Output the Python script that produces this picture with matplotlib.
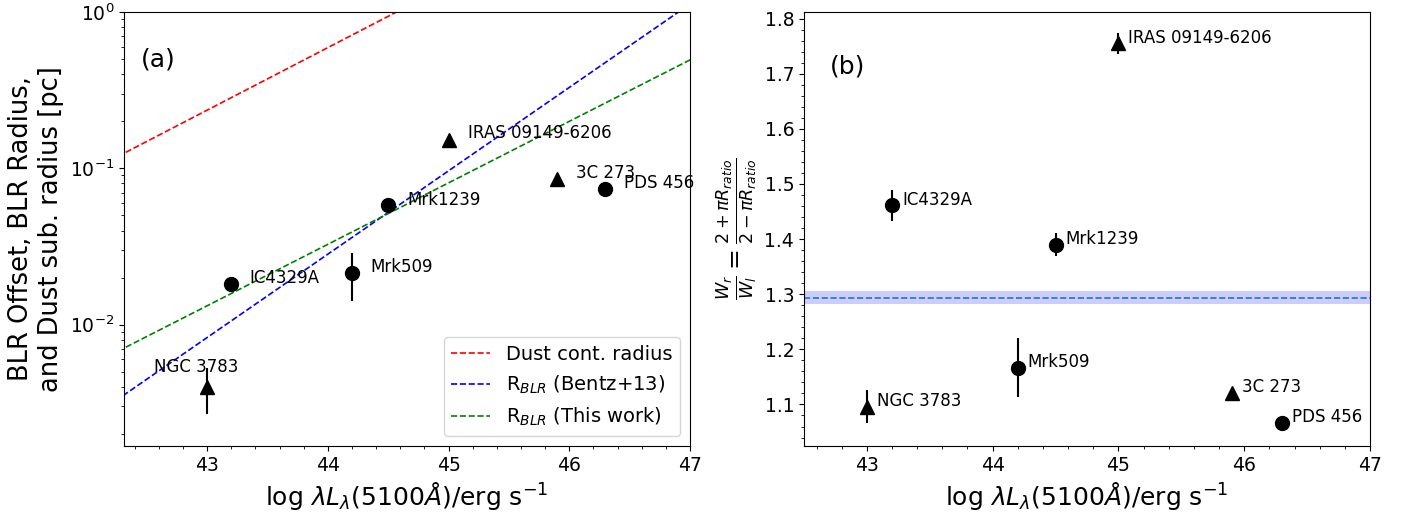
import matplotlib
matplotlib.use("Agg")
import matplotlib.pyplot as plt
from matplotlib.ticker import MultipleLocator

plt.rcParams["font.family"] = "DejaVu Sans"

# sources, log luminosity (5100A)
NAMES = ["NGC 3783", "IC4329A", "Mrk509", "Mrk1239", "IRAS 09149-6206", "3C 273", "PDS 456"]
LOG_L = [43.0, 43.2, 44.2, 44.5, 45.0, 45.9, 46.3]
MARKERS = ["^", "o", "o", "o", "^", "^", "o"]

# panel (a): BLR offset [pc] with asymmetric errors
OFFSET_PC = [0.0040, 0.0183, 0.0214, 0.0586, 0.151, 0.0855, 0.0741]
OFFSET_LO = [0.0013, 0.0, 0.0073, 0.0, 0.0, 0.0, 0.0]
OFFSET_HI = [0.0013, 0.0, 0.0074, 0.0, 0.0, 0.0, 0.0]

# panel (b): W_r / W_l ratio
RATIO = [1.096, 1.461, 1.167, 1.390, 1.755, 1.121, 1.067]
RATIO_ERR = [0.030, 0.028, 0.053, 0.021, 0.019, 0.0, 0.0]
RATIO_MEAN = 1.294
RATIO_MEAN_ERR = 0.012

# relations: log R[pc] = A + B * (log L - 44)
DUST_A, DUST_B = -0.228, 0.40
BENTZ_A, BENTZ_B = -1.549, 0.533
THIS_A, THIS_B = -1.486, 0.393

# label positions (data coords)
LABEL_A = [(42.56, 0.0054), (43.35, 0.0199), (44.35, 0.0233), (44.66, 0.063),
           (45.16, 0.167), (46.06, 0.0935), (46.45, 0.0807)]
LABEL_DX_B, LABEL_DY_B = 0.08, 0.01


def relation(x, a, b):
    return [10 ** (a + b * (v - 44.0)) for v in x]


fig = plt.figure(figsize=(14.08, 5.19), dpi=100)
ax1 = fig.add_axes([0.088, 0.141, 0.402, 0.836])
ax2 = fig.add_axes([0.571, 0.141, 0.402, 0.836])

# ---- panel (a)
xline = [42.0, 47.5]
ax1.plot(xline, relation(xline, DUST_A, DUST_B), "r--", lw=1.2, label="Dust cont. radius")
ax1.plot(xline, relation(xline, BENTZ_A, BENTZ_B), "b--", lw=1.2, label=r"R$_{BLR}$ (Bentz+13)")
ax1.plot(xline, relation(xline, THIS_A, THIS_B), "g--", lw=1.2, label=r"R$_{BLR}$ (This work)")

for i, name in enumerate(NAMES):
    ax1.errorbar(LOG_L[i], OFFSET_PC[i], yerr=[[OFFSET_LO[i]], [OFFSET_HI[i]]],
                 fmt=MARKERS[i], color="black", ms=10, elinewidth=1.5, capsize=0)
    ax1.text(LABEL_A[i][0], LABEL_A[i][1], name, fontsize=12, va="center", ha="left")

ax1.set_yscale("log")
ax1.set_xlim(42.31, 47)
ax1.set_ylim(0.00168, 1)
ax1.xaxis.set_major_locator(MultipleLocator(1))
ax1.xaxis.set_minor_locator(MultipleLocator(0.2))
ax1.tick_params(labelsize=13.5)
ax1.set_xlabel(r"log $\lambda L_{\lambda}(5100\AA)$/erg s$^{-1}$", fontsize=18)
ax1.set_ylabel("BLR Offset, BLR Radius,\nand Dust sub. radius [pc]", fontsize=18.5)
ax1.text(0.03, 0.89, "(a)", transform=ax1.transAxes, fontsize=18, va="center")
ax1.legend(loc="lower right", fontsize=14)

# ---- panel (b)
ax2.axhspan(RATIO_MEAN - RATIO_MEAN_ERR, RATIO_MEAN + RATIO_MEAN_ERR, color="blue", alpha=0.2, lw=0)
ax2.axhline(RATIO_MEAN, color="C0", ls="--", lw=1.2)

for i, name in enumerate(NAMES):
    ax2.errorbar(LOG_L[i], RATIO[i], yerr=RATIO_ERR[i] if RATIO_ERR[i] > 0 else None,
                 fmt=MARKERS[i], color="black", ms=10, elinewidth=1.5, capsize=0)
    ax2.text(LOG_L[i] + LABEL_DX_B, RATIO[i] + LABEL_DY_B, name, fontsize=12, va="center", ha="left")

ax2.set_xlim(42.5, 47)
ax2.set_ylim(1.025, 1.812)
ax2.xaxis.set_major_locator(MultipleLocator(1))
ax2.xaxis.set_minor_locator(MultipleLocator(0.2))
ax2.yaxis.set_minor_locator(MultipleLocator(0.02))
ax2.tick_params(labelsize=13.5)
ax2.set_xlabel(r"log $\lambda L_{\lambda}(5100\AA)$/erg s$^{-1}$", fontsize=18)
ax2.set_ylabel(r"$\frac{W_r}{W_l}=\frac{2+\pi R_{ratio}}{2-\pi R_{ratio}}$", fontsize=18)
ax2.text(0.045, 0.875, "(b)", transform=ax2.transAxes, fontsize=18, va="center")

fig.savefig("out.png", dpi=100)
